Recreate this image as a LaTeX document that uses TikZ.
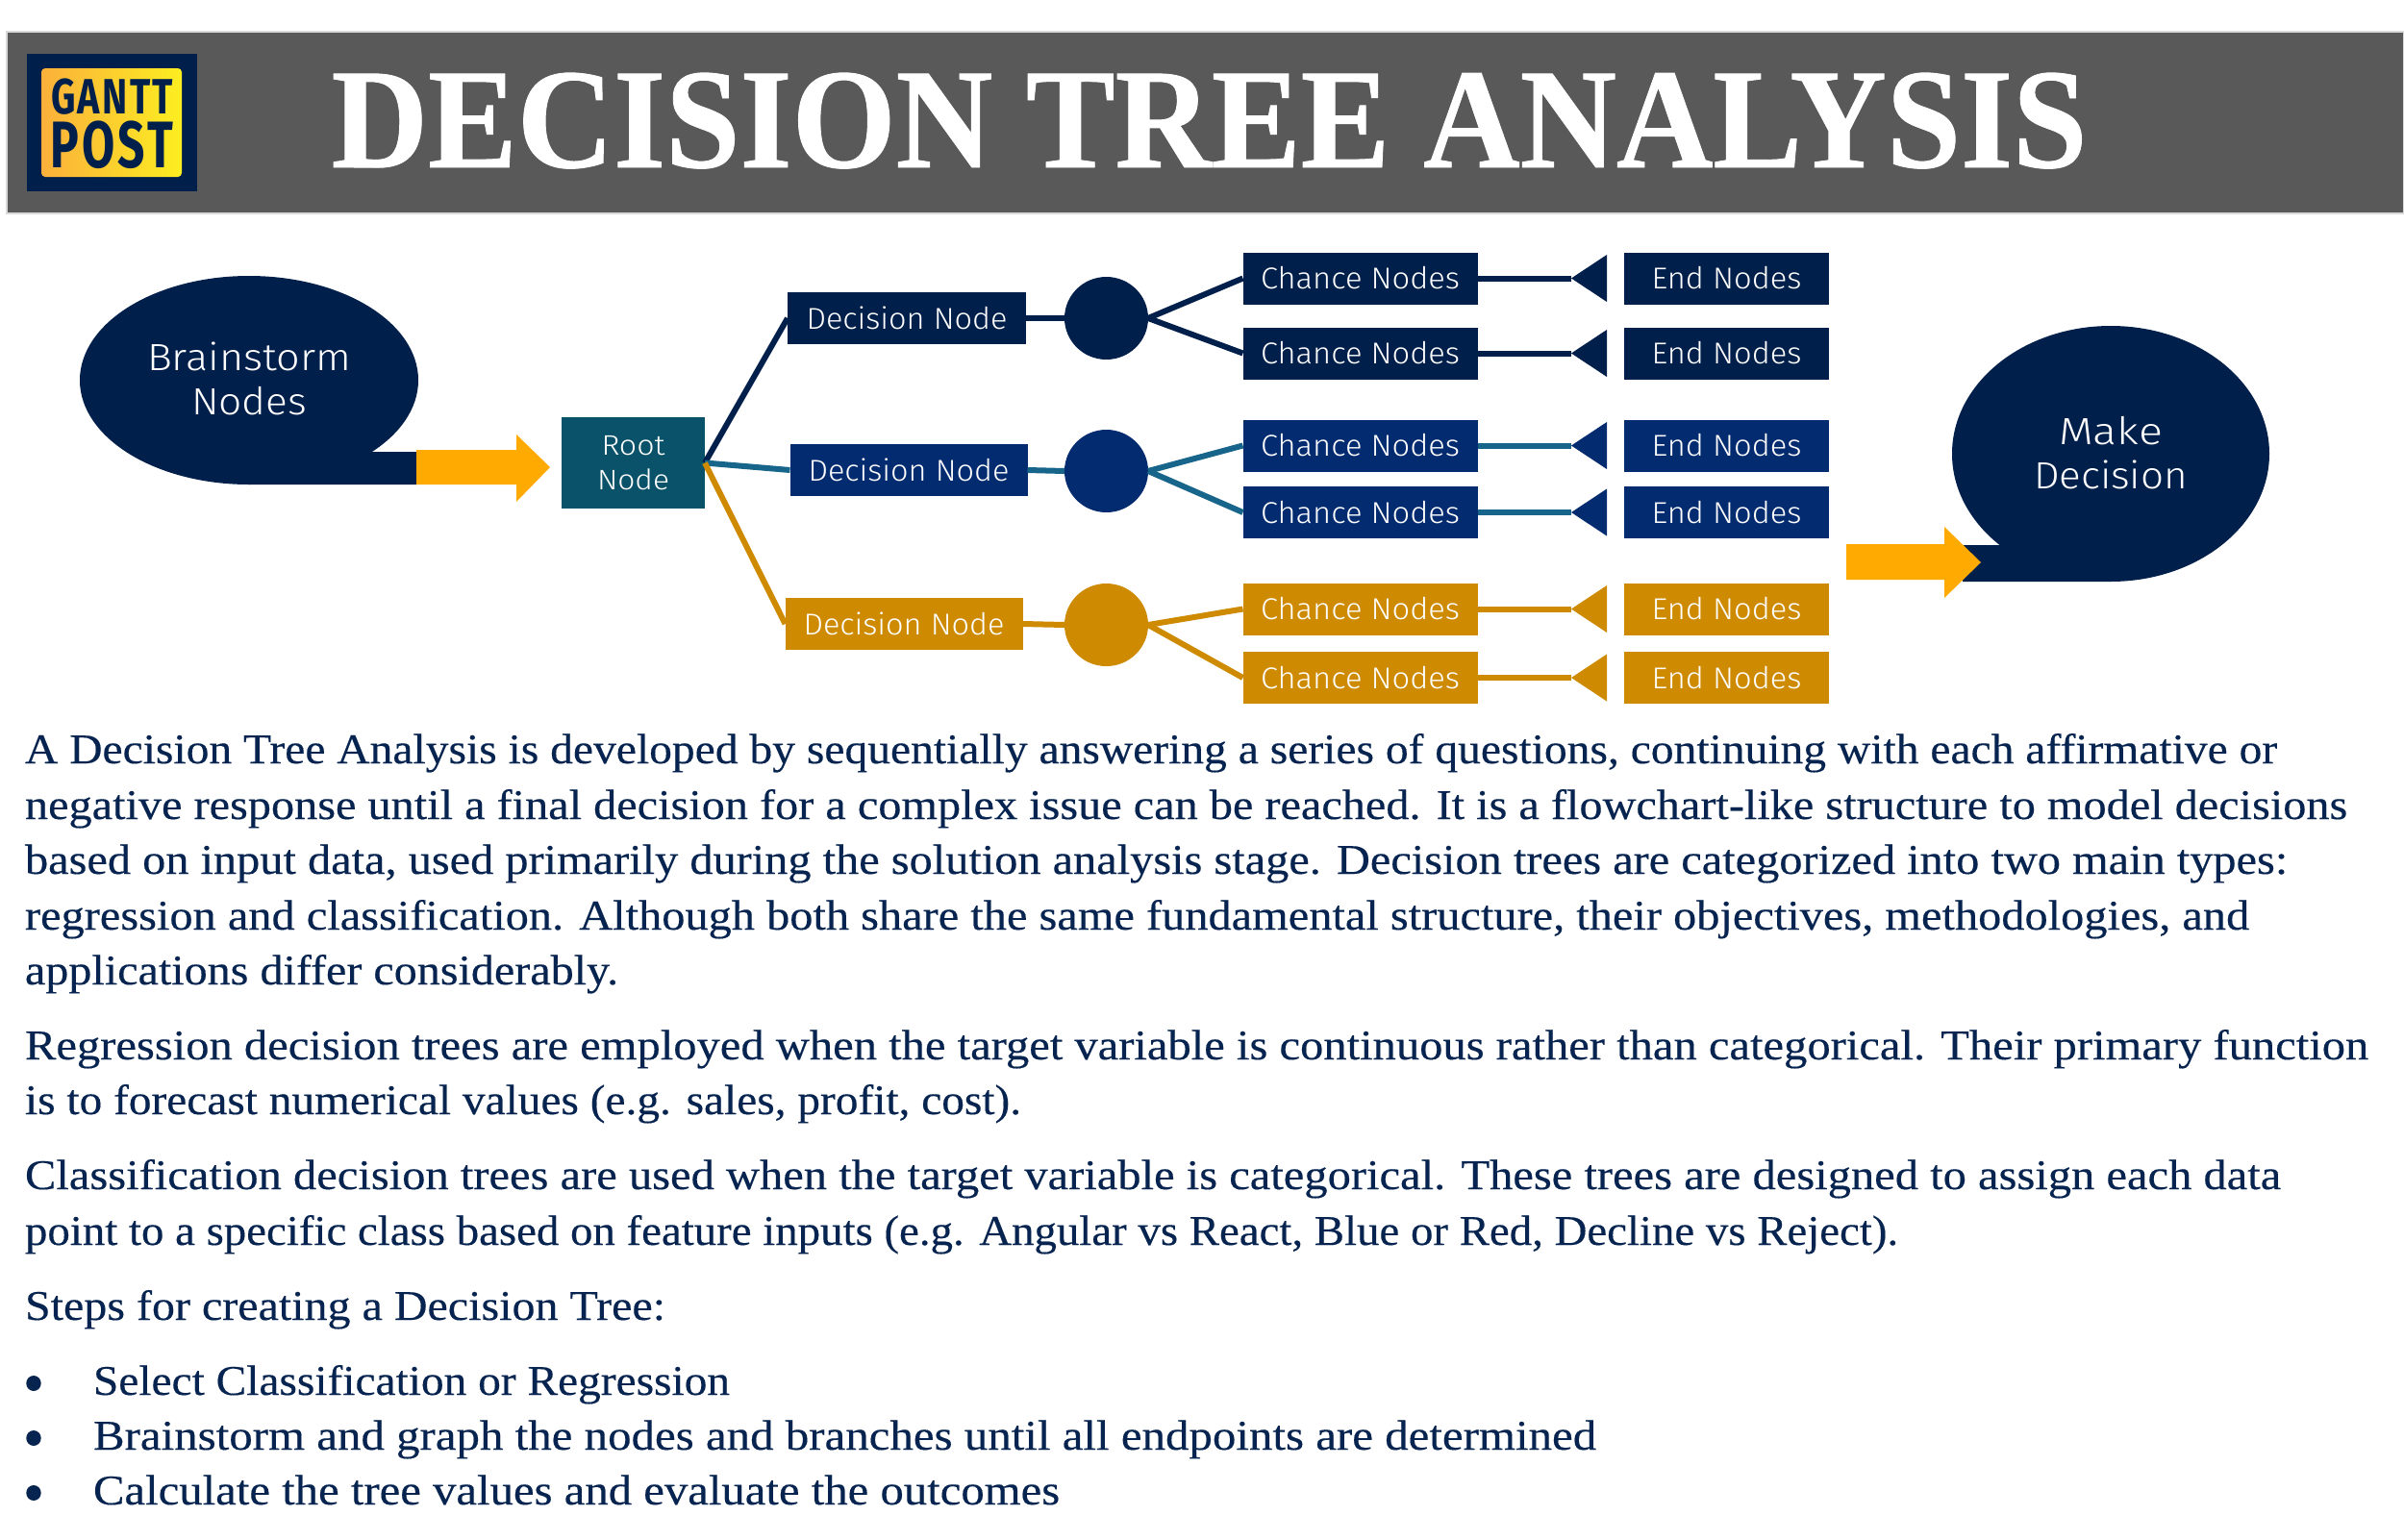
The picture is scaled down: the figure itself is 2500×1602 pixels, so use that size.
\documentclass[tikz,border=0pt]{standalone}
\usepackage{fontspec}
\usepackage{graphicx}
\usetikzlibrary{shapes.geometric}
\setmainfont{Liberation Serif}
\newfontfamily\bodyfam{Liberation Serif}[FakeBold=0.3]
\newfontfamily\titlefam{Liberation Serif Bold}[FakeBold=0.6]
\newfontfamily\diagfam{Fira Sans Light}
\newfontfamily\logofam{Fira Sans}[BoldFont={Fira Sans Bold},LetterSpace=6]
\definecolor{navyc}{HTML}{011F4B}
\definecolor{bluec}{HTML}{032B70}
\definecolor{tealbox}{HTML}{0A5269}
\definecolor{tealline}{HTML}{17658A}
\definecolor{goldc}{HTML}{CE8A00}
\definecolor{yellowc}{HTML}{FFAA00}
\definecolor{headc}{HTML}{595959}
\definecolor{headline}{HTML}{D9D9D9}
\definecolor{bodyc}{HTML}{06244F}
\definecolor{logoa}{HTML}{FBB03B}
\definecolor{logob}{HTML}{FCEE21}
\newlength\fitlen
\newcommand\fitw[2]{\settowidth\fitlen{#2}\pgfmathsetmacro\fitsx{(#1)*0.3/\fitlen}\scalebox{\fitsx}[1]{#2}}
\newcommand\bodytxt{\bodyfam\fontsize{13.2}{17}\selectfont}
\newcommand\bodyline[5]{\node (#1) [bodyl] at (#2,#3) {\fitw{#4-#2}{#5}};}
\tikzset{
  bodyl/.style={anchor=base west,inner sep=0pt,outer sep=0pt,text=bodyc,font=\bodytxt},
  boxn/.style={rectangle,inner sep=0pt,outer sep=0pt,minimum height=54*0.3pt,text=white,font=\diagfam\fontsize{9.4}{11}\selectfont},
  chancebox/.style={boxn,minimum width=244*0.3pt},
  endbox/.style={boxn,minimum width=213*0.3pt},
  decisionbox/.style={boxn,minimum width=247*0.3pt},
  rootbox/.style={boxn,minimum width=149*0.3pt,minimum height=95*0.3pt,fill=tealbox,align=center,font=\diagfam\fontsize{8.8}{10.8}\selectfont},
  blob/.style={ellipse,inner sep=0pt,outer sep=0pt,fill=navyc},
  blobtext/.style={inner sep=0pt,outer sep=0pt,text=white,align=center,font=\diagfam\fontsize{11.8}{13.8}\selectfont},
  chancenode/.style={ellipse,inner sep=0pt,outer sep=0pt,minimum width=87*0.3pt,minimum height=86*0.3pt},
  branch/.style={line width=1.8pt},
  blockarrow/.style={fill=yellowc},
  logotext/.style={anchor=base west,inner sep=0pt,outer sep=0pt,text=navyc,font=\logofam\bfseries}
}
\begin{document}
\begin{tikzpicture}[x=0.3pt,y=-0.3pt]
\useasboundingbox (0,0) rectangle (2500,1602);
% header
\fill[headc,draw=headline,line width=0.4pt] (7,33) rectangle (2500,222);
\fill[navyc] (28,56) rectangle (205,199);
\shade[left color=logoa,right color=logob,rounded corners=1.2pt] (43,71) rectangle (189,184);
\node (logotop) [logotext] at (53,118) {\resizebox{38.1pt}{11pt}{GANTT}};
\node (logobot) [logotext] at (53,174) {\resizebox{38.1pt}{14.6pt}{POST}};
\node (title) [anchor=base west,inner sep=0pt,text=white,font=\titlefam\fontsize{44.5}{50}\selectfont] at (344,174) {\fitw{1826}{DECISION TREE ANALYSIS}};
% left bubble
\fill[navyc] (259,504) -- (433,504) -- (433,470) -- (386,470) -- (259,395) -- cycle;
\node (brain) [blob,minimum width=352*0.3pt,minimum height=217*0.3pt] at (259,395.5) {};
\node (brainlabel) [blobtext] at (259,394) {\fitw{212}{Brainstorm}\\\fitw{120}{Nodes}};
\fill[blockarrow] (433,468) -- (537,468) -- (537,452) -- (572,486) -- (537,522) -- (537,504) -- (433,504) -- cycle;
% right bubble
\fill[navyc] (2195,605) -- (2041,605) -- (2041,567) -- (2079,567) -- (2195,472) -- cycle;
\node (make) [blob,minimum width=330*0.3pt,minimum height=266*0.3pt] at (2195,472) {};
\node (makelabel) [blobtext] at (2195,471.5) {\fitw{108}{Make}\\\fitw{160}{Decision}};
\fill[blockarrow] (1920,566) -- (2022,566) -- (2022,548) -- (2060,585) -- (2022,622) -- (2022,603) -- (1920,603) -- cycle;
% root and decisions
\node (root) [rootbox] at (658.5,481.5) {\fitw{66}{Root}\\\fitw{75}{Node}};
\node (d1) [decisionbox,fill=navyc,minimum width=248*0.3pt] at (943,331) {\fitw{209}{Decision Node}};
\node (d2) [decisionbox,fill=bluec] at (945,489) {\fitw{209}{Decision Node}};
\node (d3) [decisionbox,fill=goldc] at (940,649) {\fitw{209}{Decision Node}};
\node (c1) [chancenode,fill=navyc] at (1150.5,331) {};
\node (c2) [chancenode,fill=bluec] at (1150.5,490) {};
\node (c3) [chancenode,fill=goldc] at (1150.5,650) {};
\draw[branch,navyc] (root.east) -- (d1.west);
\draw[branch,tealline] (root.east) -- (d2.west);
\draw[branch,goldc] (root.east) -- (d3.west);
\draw[branch,navyc] (d1.east) -- (c1.west);
\draw[branch,tealline] (d2.east) -- (c2.west);
\draw[branch,goldc] (d3.east) -- (c3.west);
% chance and end rows
\foreach \n/\y/\c/\l/\p in {1/289.5/navyc/navyc/c1,2/367.5/navyc/navyc/c1,3/463.5/bluec/tealline/c2,4/533/bluec/tealline/c2,5/633.5/goldc/goldc/c3,6/705/goldc/goldc/c3}{
  \node (ch\n) [chancebox,fill=\c] at (1414.5,\y) {\fitw{207}{Chance Nodes}};
  \node (en\n) [endbox,fill=\c] at (1795.5,\y) {\fitw{156}{End Nodes}};
  \coordinate (t\n) at (1634,\y);
  \fill[\c] (t\n) -- ++(37,-24.5) -- ++(0,49) -- cycle;
  \draw[branch,\l] (ch\n.east) -- (t\n);
  \draw[branch,\l] (\p.east) -- (ch\n.west);
}
% body text
\bodyline{l1}{26}{794}{2368}{A Decision Tree Analysis is developed by sequentially answering a series of questions, continuing with each affirmative or}
\bodyline{l2}{26}{852}{2441}{negative response until a final decision for a complex issue can be reached. It is a flowchart-like structure to model decisions}
\bodyline{l3}{26}{909}{2379}{based on input data, used primarily during the solution analysis stage. Decision trees are categorized into two main types:}
\bodyline{l4}{26}{967}{2339}{regression and classification. Although both share the same fundamental structure, their objectives, methodologies, and}
\bodyline{l5}{26}{1024}{643}{applications differ considerably.}
\bodyline{l6}{26}{1102}{2463}{Regression decision trees are employed when the target variable is continuous rather than categorical. Their primary function}
\bodyline{l7}{26}{1159}{1062}{is to forecast numerical values (e.g. sales, profit, cost).}
\bodyline{l8}{26}{1237}{2372}{Classification decision trees are used when the target variable is categorical. These trees are designed to assign each data}
\bodyline{l9}{26}{1295}{1974}{point to a specific class based on feature inputs (e.g. Angular vs React, Blue or Red, Decline vs Reject).}
\bodyline{l10}{26}{1373}{692}{Steps for creating a Decision Tree:}
\fill[bodyc] (35,1439) ellipse [x radius=7.7,y radius=8];
\fill[bodyc] (35,1496) ellipse [x radius=7.7,y radius=8];
\fill[bodyc] (35,1553) ellipse [x radius=7.7,y radius=8];
\bodyline{l11}{97}{1451}{759}{Select Classification or Regression}
\bodyline{l12}{97}{1508}{1660}{Brainstorm and graph the nodes and branches until all endpoints are determined}
\bodyline{l13}{97}{1565}{1102}{Calculate the tree values and evaluate the outcomes}
\end{tikzpicture}
\end{document}
